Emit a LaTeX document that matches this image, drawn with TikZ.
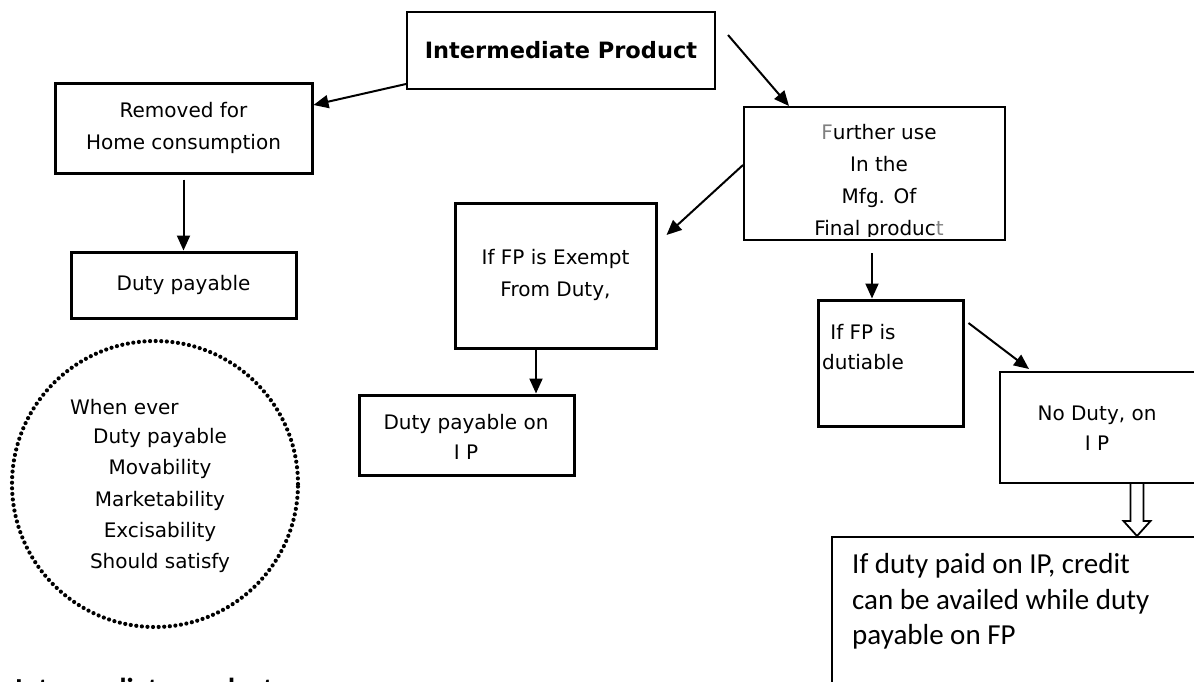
\documentclass[tikz,border=0pt]{standalone}
\usepackage{fontspec}
\setmainfont{DejaVu Sans}
\newfontfamily\calib{Carlito}
\usetikzlibrary{arrows.meta,calc}

\begin{document}
\begin{tikzpicture}[x=1pt,y=-1pt,
  box/.style={draw,line width=2pt,inner sep=0pt},
  heavy/.style={box,line width=3pt},
  comic/.style={inner sep=0pt,align=center,font=\fontsize{20}{32}\selectfont},
  calibri/.style={inner sep=0pt,align=left,font=\calib\fontsize{29}{35.5}\selectfont},
  link/.style={line width=2pt,-{Triangle[length=15pt,width=13pt]}},
  dotring/.style={line width=4.2pt,line cap=round,dash pattern=on 0pt off 5.6pt}]
\useasboundingbox (0,0) rectangle (1194,681);
\clip (0,0) rectangle (1194,681);

% boxes
\node[box,minimum width=308pt,minimum height=77pt,
      font=\bfseries\fontsize{22.5}{27}\selectfont] (ip) at (561,50.5) {Intermediate Product};
\node[heavy,comic,minimum width=257pt,minimum height=90pt] (removed) at (183.5,128) {Removed for\\Home consumption};
\node[heavy,comic,minimum width=225pt,minimum height=66pt] (duty) at (183.5,285) {Duty payable};
\node[box,minimum width=261pt,minimum height=133pt] (further) at (874.5,173.5) {};
\node[heavy,minimum width=201pt,minimum height=145pt] (exempt) at (555.5,275.5) {};
\node[heavy,minimum width=215pt,minimum height=80pt] (dutyip) at (466.5,435) {};
\node[heavy,minimum width=145pt,minimum height=126pt] (dutiable) at (890.5,363) {};
\node[box,minimum width=210pt,minimum height=111pt] (noduty) at (1105,427.5) {};
\node[box,minimum width=378pt,minimum height=163pt] (credit) at (1021,618.5) {};

% box texts (the last line of the further-use box runs under its lower edge)
\begin{scope}
  \clip (746,109) rectangle (1003,236);
  \node[comic,font=\fontsize{20}{32}\selectfont] (furthertext) at (879,182)
    {\textcolor{gray}{F}urther use\\In the\\Mfg. Of\\Final produc\textcolor{gray}{t}};
\end{scope}
\node[comic] (exempttext) at (555.5,275) {If FP is Exempt\\From Duty,};
\node[comic,font=\fontsize{20}{30}\selectfont] (dutyiptext) at (466,437) {Duty payable on\\I P};
\node[comic,font=\fontsize{20}{30}\selectfont] (dutiabletext) at (863,347.5) {If FP is\\dutiable};
\node[comic,font=\fontsize{20}{30}\selectfont] (nodutytext) at (1097,428) {No Duty, on\\I P};
\node[calibri,anchor=west] (credittext) at (852,601.5)
  {If duty paid on IP, credit\\can be availed while duty\\payable on FP};

% dotted ring of conditions
\node[draw,dotring,circle,inner sep=0pt,minimum size=286pt] (ring) at (155,484) {};
\node[comic,anchor=west] (whenever) at (70,407) {When ever};
\node[comic,font=\fontsize{20}{31.2}\selectfont] (conditions) at (160,500.6)
  {Duty payable\\Movability\\Marketability\\Excisability\\Should satisfy};

% heading cut at the lower edge
\node[inner sep=0pt,anchor=base west,font=\calib\bfseries\fontsize{29}{35}\selectfont] (foot) at (15,698) {Intermediate products};

% connectors
\draw[link] ([yshift=6pt]ip.south west) -- ([yshift=23pt]removed.east);
\draw[link] ([xshift=12pt,yshift=15.5pt]ip.east) -- ([xshift=46pt]further.north west);
\draw[link] ([yshift=-5pt]removed.south) -- (duty.north);
\draw[link] ([yshift=8.5pt]further.west) -- ([xshift=9pt,yshift=40.5pt]exempt.east);
\coordinate (es) at ([xshift=-19.5pt]exempt.south);
\draw[link] (es) -- (es |- dutyip.north);
\coordinate (fs) at ([xshift=-2.5pt,yshift=-12pt]further.south);
\draw[link] (fs) -- (fs |- dutiable.north);
\draw[link] ([xshift=4pt,yshift=40pt]dutiable.east) -- ([xshift=30pt,yshift=2pt]noduty.north west);

% hollow arrow into the credit box
\coordinate (hs) at ([xshift=138pt]noduty.south west);
\coordinate (ht) at (hs |- credit.north);
\draw[line width=1.8pt,fill=white,line join=miter]
  ([xshift=-6.5pt]hs) -- ([xshift=-6.5pt,yshift=15pt]ht) -- ([xshift=-13.5pt,yshift=15pt]ht)
  -- (ht) -- ([xshift=13.5pt,yshift=15pt]ht) -- ([xshift=6.5pt,yshift=15pt]ht) -- ([xshift=6.5pt]hs);
\end{tikzpicture}
\end{document}
